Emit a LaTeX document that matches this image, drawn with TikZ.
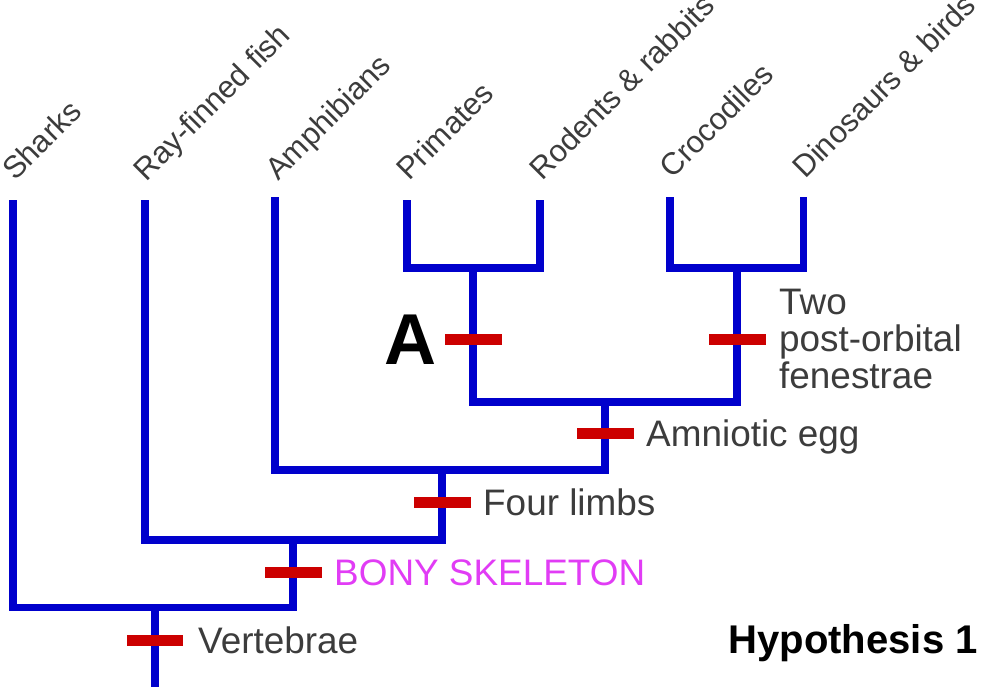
\documentclass[tikz,border=0pt]{standalone}
\usepackage{fontspec}
\setmainfont{Liberation Sans}
\usetikzlibrary{positioning}

\definecolor{treeblue}{RGB}{0,0,204}
\definecolor{markred}{RGB}{204,0,0}
\definecolor{labelgray}{RGB}{60,60,60}
\definecolor{bonypink}{RGB}{225,60,245}

\begin{document}
\begin{tikzpicture}[x=0.02cm, y=-0.02cm,
	branch/.style={color=treeblue, line width=4pt},
	trait/.style={fill=markred, inner sep=0pt, minimum width=1.14cm, minimum height=0.22cm},
	taxon/.style={rotate=45, anchor=base west, inner sep=0pt, text=labelgray, font=\fontsize{17.6}{17.6}\selectfont},
	feature/.style={anchor=west, inner sep=0pt, text=labelgray, text height=15pt, text depth=0pt, font=\fontsize{21}{21}\selectfont}]

	\useasboundingbox (0,0) rectangle (986,687);

	\coordinate (sh) at (13,200);
	\coordinate (rf) at (145,200);
	\coordinate (am) at (275,197);
	\coordinate (pr) at (407,200);
	\coordinate (ro) at (540,200);
	\coordinate (cr) at (670,197);
	\coordinate (di) at (803,197);

	\coordinate (j1) at (473,268);
	\coordinate (j2) at (737,268);
	\coordinate (j3) at (605,402);
	\coordinate (j4) at (442,470);
	\coordinate (j5) at (293,540);
	\coordinate (j6) at (155,607);
	\coordinate (root) at (155,687);

	\draw[branch] (pr) |- (j1) -| (ro);
	\draw[branch] (cr) |- (j2) -| (di);
	\draw[branch] (j1) |- (j3) -| (j2);
	\draw[branch] (am) |- (j4) -| (j3);
	\draw[branch] (rf) |- (j5) -| (j4);
	\draw[branch] (sh) |- (j6) -| (j5);
	\draw[branch] (j6) -- (root);

	\node[taxon] (lsh) at (15,182) {Sharks};
	\node[taxon] (lrf) at (146,183) {Ray-finned fish};
	\node[taxon] (lam) at (278,182) {Amphibians};
	\node[taxon] (lpr) at (409,182) {Primates};
	\node[taxon] (lro) at (542,182) {Rodents \& rabbits};
	\node[taxon] (lcr) at (672,180) {Crocodiles};
	\node[taxon] (ldi) at (805,180) {Dinosaurs \& birds};

	\node[trait] (mA) at (473,339) {};
	\node[trait] (mT) at (737,339) {};
	\node[trait] (mE) at (605,433) {};
	\node[trait] (mL) at (442,502) {};
	\node[trait] (mB) at (293,572) {};
	\node[trait] (mV) at (155,640) {};

	\node[anchor=east, inner sep=0pt, text height=29.5pt, text depth=0pt, font=\fontsize{41}{41}\selectfont\bfseries, left=0.14cm of mA] (lA) {A};
	\node[anchor=west, inner sep=0pt, text=labelgray, align=left, font=\fontsize{21}{21}\selectfont, right=0.26cm of mT] (lT) {Two\\post-orbital\\fenestrae};
	\node[feature, right=0.24cm of mE] (lE) {Amniotic egg};
	\node[feature, right=0.24cm of mL] (lL) {Four limbs};
	\node[feature, text=bonypink, right=0.24cm of mB] (lB) {BONY SKELETON};
	\node[feature, right=0.28cm of mV] (lV) {Vertebrae};

	\node[anchor=west, inner sep=0pt, text height=16pt, text depth=0pt, font=\fontsize{22.8}{22.8}\selectfont\bfseries] (hyp) at (728,639) {Hypothesis 1};
\end{tikzpicture}
\end{document}
